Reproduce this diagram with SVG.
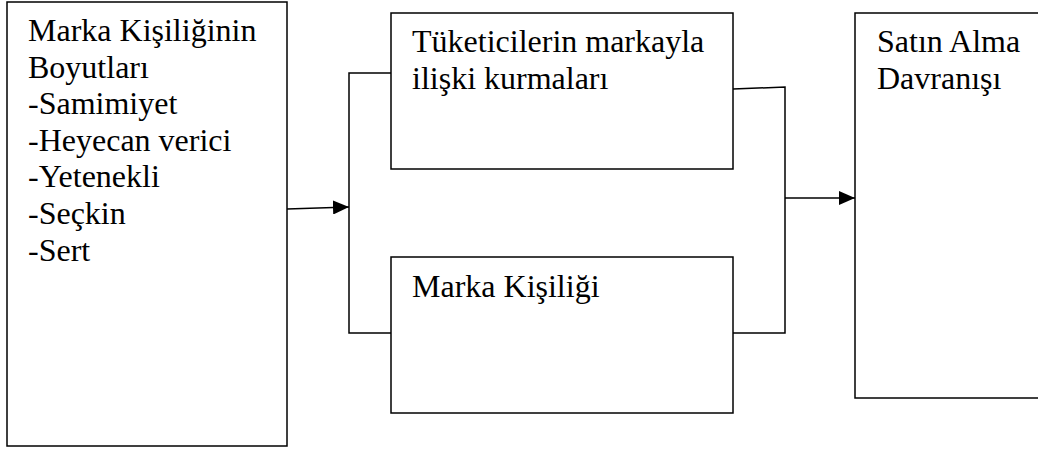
<svg xmlns="http://www.w3.org/2000/svg" width="1038" height="449" viewBox="0 0 1038 449">
<defs>
<marker id="ah" markerWidth="16" markerHeight="14" refX="16" refY="7" orient="auto" markerUnits="userSpaceOnUse">
<path d="M0,0 L16,7 L0,14 Z" fill="#000"/>
</marker>
</defs>
<rect width="1038" height="449" fill="#fff"/>
<g id="connectors" fill="none" stroke="#000" stroke-width="1.5">
<path d="M391,73 H349 V333 H391"/>
<path d="M733,89 L785,87 V333 H733"/>
<path d="M287,209 L349,207" marker-end="url(#ah)"/>
<path d="M785,198 H855" marker-end="url(#ah)"/>
</g>
<g id="node-boyutlar">
<rect x="7" y="2" width="280" height="444" fill="#fff" stroke="#000" stroke-width="1.5"/>
<text x="28" y="41" font-family="Times New Roman, Liberation Serif, serif" font-size="32">Marka Kişiliğinin</text>
<text x="28" y="78" font-family="Times New Roman, Liberation Serif, serif" font-size="32">Boyutları</text>
<text x="28" y="114" font-family="Times New Roman, Liberation Serif, serif" font-size="32">-Samimiyet</text>
<text x="28" y="151" font-family="Times New Roman, Liberation Serif, serif" font-size="32">-Heyecan verici</text>
<text x="28" y="187" font-family="Times New Roman, Liberation Serif, serif" font-size="32">-Yetenekli</text>
<text x="28" y="224" font-family="Times New Roman, Liberation Serif, serif" font-size="32">-Seçkin</text>
<text x="28" y="261" font-family="Times New Roman, Liberation Serif, serif" font-size="32">-Sert</text>
</g>
<g id="node-iliski">
<rect x="391" y="13" width="342" height="156" fill="#fff" stroke="#000" stroke-width="1.5"/>
<text x="412" y="52" font-family="Times New Roman, Liberation Serif, serif" font-size="32">Tüketicilerin markayla</text>
<text x="412" y="89" font-family="Times New Roman, Liberation Serif, serif" font-size="32">ilişki kurmaları</text>
</g>
<g id="node-kisilik">
<rect x="391" y="257" width="342" height="156" fill="#fff" stroke="#000" stroke-width="1.5"/>
<text x="412" y="297" font-family="Times New Roman, Liberation Serif, serif" font-size="32">Marka Kişiliği</text>
</g>
<g id="node-satin">
<rect x="855" y="13" width="200" height="385" fill="#fff" stroke="#000" stroke-width="1.5"/>
<text x="877" y="52" font-family="Times New Roman, Liberation Serif, serif" font-size="32">Satın Alma</text>
<text x="877" y="89" font-family="Times New Roman, Liberation Serif, serif" font-size="32">Davranışı</text>
</g>
</svg>
